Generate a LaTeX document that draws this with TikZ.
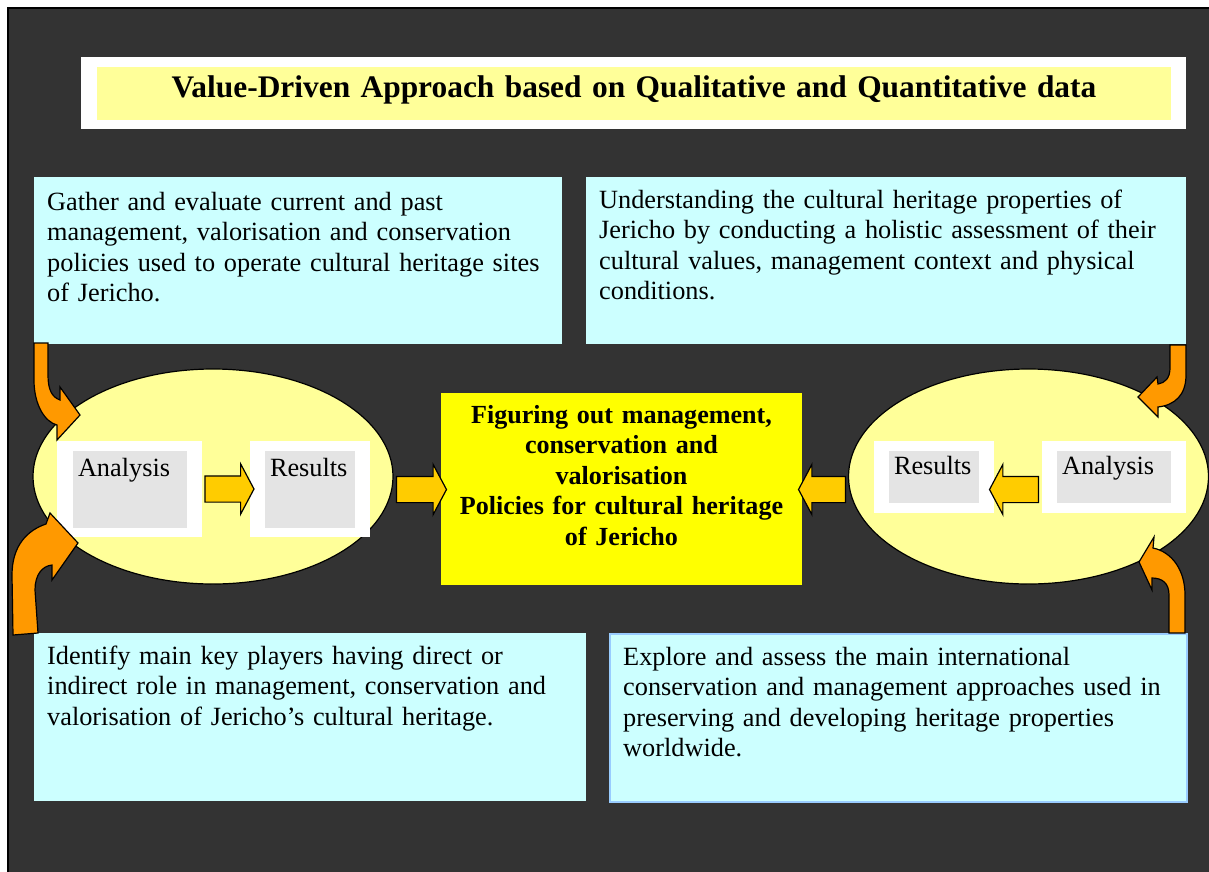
\documentclass[tikz,border=0pt]{standalone}
\usepackage{fontspec}
\setmainfont{Liberation Serif}
\usetikzlibrary{shapes.geometric, shapes.arrows, positioning, calc}

\definecolor{slate}{HTML}{333333}
\definecolor{sky}{HTML}{CCFFFF}
\definecolor{cream}{HTML}{FFFF99}
\definecolor{lemon}{HTML}{FFFF00}
\definecolor{gold}{HTML}{FFCC00}
\definecolor{amber}{HTML}{FF9900}
\definecolor{mist}{HTML}{E4E4E4}
\definecolor{rim}{HTML}{99CCFF}

\newcommand{\bodysize}{\fontsize{26.3}{30.5}\selectfont}

\begin{document}
\begin{tikzpicture}[
      x=1pt, y=-1pt,
      panelbox/.style={rectangle, fill=sky, anchor=north west, inner sep=0pt},
      paneltext/.style={anchor=base west, inner sep=0pt, text width=590pt,
                        align=left, font=\bodysize},
      padbox/.style={rectangle, fill=white, inner sep=0pt},
      cellbox/.style={rectangle, fill=mist, inner xsep=5pt, inner ysep=0pt,
                      align=left, font=\bodysize},
      ringbox/.style={ellipse, draw=black, fill=cream, line width=1.2pt,
                      minimum width=360pt, minimum height=215pt},
      pusharrow/.style={single arrow, draw=black, fill=gold, line width=1.2pt,
                        inner xsep=0pt, inner ysep=12.5pt, minimum height=49pt,
                        single arrow head extend=12pt, single arrow tip angle=124},
      feeder/.style={draw=black, fill=amber, line width=1.2pt}
    ]
    \useasboundingbox (0,0) rectangle (1209,871);
    \fill[white] (0,0) rectangle (1209,871);
    \draw[fill=slate, line width=1.6pt] (7.8,7.8) rectangle (1220,880);

    % heading
    \node[padbox, minimum width=1105pt, minimum height=72pt] (frame) at (633.5,93) {};
    \node[rectangle, fill=cream, inner sep=0pt, text width=1074pt, align=center,
          text height=30pt, text depth=23pt, font=\fontsize{31.4}{36}\selectfont\bfseries]
          (title) at (634,93.5) {Value-Driven Approach based on Qualitative and Quantitative data};

    % the four study panels
    \node[panelbox, minimum width=528pt, minimum height=167pt] (policies) at (34,177) {};
    \node[panelbox, minimum width=600pt, minimum height=167pt] (assess) at (586,177) {};
    \node[panelbox, minimum width=552pt, minimum height=168pt] (players) at (34,633) {};
    \node[panelbox, draw=rim, line width=1.5pt, minimum width=577pt, minimum height=168pt]
      (worldwide) at (609,633) {};

    \node[paneltext] (policiestext) at ([xshift=13pt, yshift=-33pt]policies.north west)
      {Gather and evaluate current and past\\management, valorisation and conservation\\policies used to operate cultural heritage sites\\of Jericho.};
    \node[paneltext] (assesstext) at ([xshift=13pt, yshift=-31pt]assess.north west)
      {Understanding the cultural heritage properties of\\Jericho by conducting a holistic assessment of their\\cultural values, management context and physical\\conditions.};
    \node[paneltext] (playerstext) at ([xshift=13pt, yshift=-31pt]players.north west)
      {Identify main key players having direct or\\indirect role in management, conservation and\\valorisation of Jericho’s cultural heritage.};
    \node[paneltext] (worldwidetext) at ([xshift=14pt, yshift=-32pt]worldwide.north west)
      {Explore and assess the main international\\conservation and management approaches used in\\preserving and developing heritage properties\\worldwide.};

    % analysis rings
    \node[ringbox] (ringL) at (213,476.5) {};
    \node[ringbox] (ringR) at (1028.5,476.5) {};

    \node[padbox, minimum width=145pt, minimum height=96pt] (padAL) at (129.5,489) {};
    \node[cellbox, text width=104pt, text height=25pt, text depth=52pt] (anaL) at (130,489.5) {Analysis};
    \node[padbox, minimum width=120pt, minimum height=96pt] (padRL) at (310,489) {};
    \node[cellbox, text width=80pt, text height=25pt, text depth=52pt] (resL) at (310,489.5) {Results};

    \node[padbox, minimum width=120pt, minimum height=72pt] (padRR) at (934,477) {};
    \node[cellbox, text width=80pt, text height=23pt, text depth=29pt] (resR) at (934,477) {Results};
    \node[padbox, minimum width=144pt, minimum height=72pt] (padAR) at (1114,477) {};
    \node[cellbox, text width=104pt, text height=23pt, text depth=29pt] (anaR) at (1114,477) {Analysis};

    % outcome
    \node[rectangle, fill=lemon, inner sep=0pt, text width=361pt, align=center,
          text height=30pt, text depth=162pt,
          font=\fontsize{26.1}{30.5}\selectfont\bfseries] (goal) at (621.5,489)
      {Figuring out management,\\conservation and\\valorisation\\Policies for cultural heritage\\of Jericho};

    \node[pusharrow] (p1) at ($(padAL.east)!.5!(padRL.west)$) {};
    \node[pusharrow, minimum height=50pt] (p2) at (418,489.5) {};
    \node[pusharrow, shape border rotate=180] (p3) at (1017.5,489.5) {};
    \node[pusharrow, shape border rotate=180, minimum height=47pt] (p4) at (825.5,489.5) {};

    % bent feeders from the panels into the rings
    \draw[feeder] (34,343) -- (34,380) .. controls (34,405) and (45,422) .. (57,425)
      -- (57,440) -- (80,415) -- (60,387) -- (60,400)
      .. controls (52,397) and (48,390) .. (48,375) -- (48,343) -- cycle;
    \draw[feeder] (13,635) -- (12,575) .. controls (12,545) and (28,530) .. (46,524)
      -- (50,513) -- (78,543) -- (52,580) -- (52,565)
      .. controls (42,566) and (35,575) .. (35,590) -- (38,633) -- cycle;
    \draw[feeder] (1186,345) -- (1186,375) .. controls (1186,395) and (1175,405) .. (1158,407)
      -- (1158,417) -- (1138,397) -- (1157,377) -- (1158,384)
      .. controls (1165,383) and (1170,378) .. (1170,368) -- (1170,345) -- cycle;
    \draw[feeder] (1185,633) -- (1185,595) .. controls (1185,570) and (1172,552) .. (1153,548)
      -- (1154,537) -- (1139,562) -- (1152,590) -- (1152,578)
      .. controls (1162,578) and (1169,583) .. (1169,595) -- (1169,633) -- cycle;
\end{tikzpicture}
\end{document}
